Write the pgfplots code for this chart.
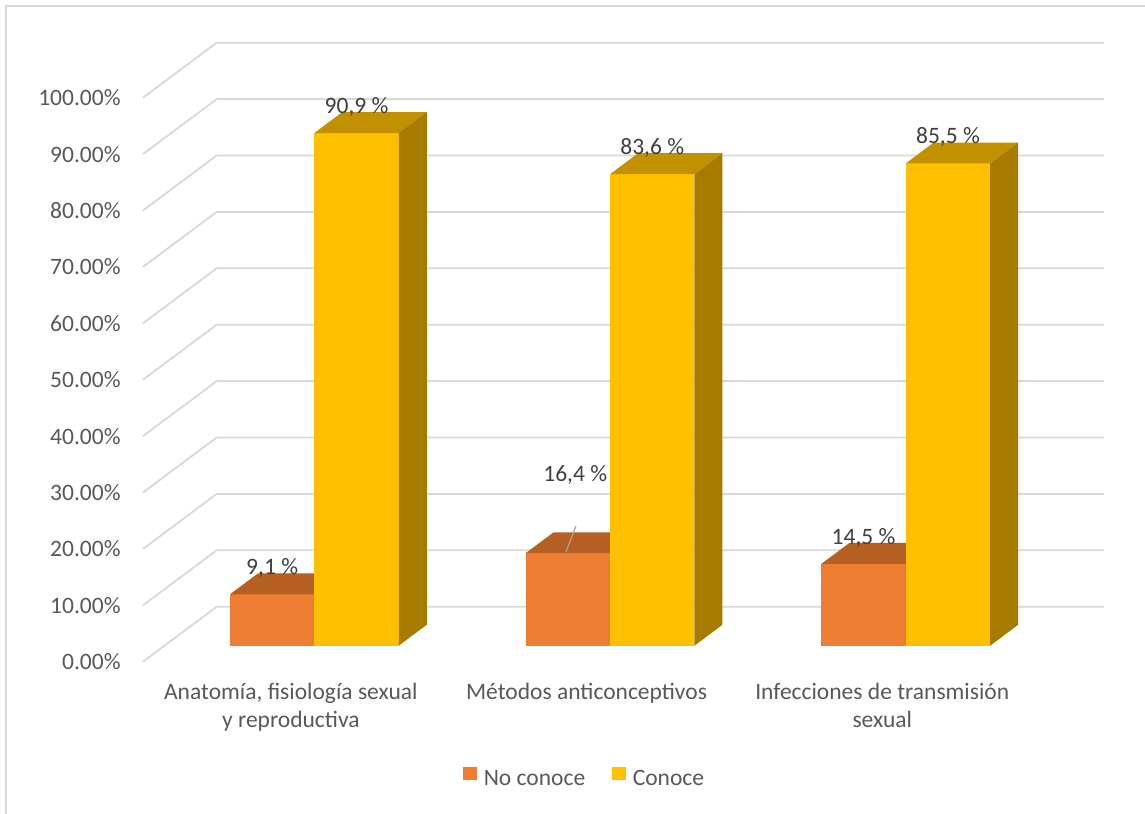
\documentclass[border=0pt]{standalone}
\usepackage{fontspec}
\setmainfont{Carlito}
\usepackage{pgfplots}
\usepackage{pgfplotstable}
\pgfplotsset{compat=1.18}
\pgfplotsset{/pgf/number format/assume math mode=true}

\definecolor{orangeF}{HTML}{ED7D31}
\definecolor{orangeT}{HTML}{B55F22}
\definecolor{orangeS}{HTML}{A9561C}
\definecolor{yellowF}{HTML}{FFC000}
\definecolor{yellowT}{HTML}{C29100}
\definecolor{yellowS}{HTML}{A57C00}
\definecolor{gridgray}{HTML}{D9D9D9}
\definecolor{axgray}{HTML}{595959}
\definecolor{lblgray}{HTML}{404040}
\definecolor{leadgray}{HTML}{A6A6A6}

\newcommand\chartfont{\fontsize{11.8}{14}\selectfont}

% values per topic: share that does not know / knows, plus label lift
\pgfplotstableread{
cat noconoce conoce lift lx
0   9.1      90.9   0    0
1   16.4     83.6   9.2  0.025
2   14.5     85.5   0    0
}\datatable

% oblique 3-D geometry (x in category units, y in percent)
\def\wdx{0.2492}   % depth of the back wall, x
\def\wdy{9.75}     % depth of the back wall, y
\def\fdx{0.0725}   % front face of the bars, x
\def\fdy{2.84}     % front face of the bars, y
\def\bdx{0.0947}   % bar depth, x
\def\bdy{3.71}     % bar depth, y
\def\barw{0.2855}  % bar width
\def\grpshift{0.007}

% #1 category, #2 left offset, #3 value, #4 front, #5 top, #6 side colour
\newcommand\drawbar[6]{%
  \pgfmathsetmacro\xa{#1+\grpshift+(#2)+\fdx}%
  \pgfmathsetmacro\xb{\xa+\barw}%
  \pgfmathsetmacro\ya{\fdy}%
  \pgfmathsetmacro\yb{#3+\fdy}%
  \pgfmathsetmacro\xc{\xa+\bdx}%
  \pgfmathsetmacro\xd{\xb+\bdx}%
  \pgfmathsetmacro\yc{\ya+\bdy}%
  \pgfmathsetmacro\yd{\yb+\bdy}%
  \edef\temp{%
    \noexpand\addplot[forget plot, fill=#4, draw=none] coordinates {(\xa,\ya) (\xb,\ya) (\xb,\yb) (\xa,\yb)};
    \noexpand\addplot[forget plot, fill=#5, draw=none] coordinates {(\xa,\yb) (\xb,\yb) (\xd,\yd) (\xc,\yd)};
    \noexpand\addplot[forget plot, fill=#6, draw=none] coordinates {(\xb,\ya) (\xd,\yc) (\xd,\yd) (\xb,\yb)};
  }\temp
}

\begin{document}
\begin{tikzpicture}
\useasboundingbox (-71.5bp,-76.15bp) rectangle (501bp,330.85bp);
\fill[white] (-71.5bp,-76.15bp) rectangle (501bp,330.85bp);
\draw[gridgray, line width=0.8bp] (-68.6bp,-80bp) -- (-68.6bp,327.95bp) -- (505bp,327.95bp);
\begin{axis}[
  at={(0,0)}, anchor=south west,
  x=147.85bp, y=2.82bp,
  xmin=-0.5, xmax=2.5, ymin=0, ymax=100,
  clip=false,
  axis line style={draw=none},
  major tick length=0pt,
  tick style={draw=none},
  xtick={0,1,2},
  xticklabels={{Anatomía, fisiología sexual\\y reproductiva},
               {Métodos anticonceptivos},
               {Infecciones de transmisión\\sexual}},
  ytick={0,10,...,100},
  yticklabel={\pgfmathprintnumber[fixed,fixed zerofill,precision=2]{\tick}\%},
  tick label style={font=\chartfont, color=axgray},
  yticklabel style={anchor=east, inner sep=0pt, xshift=-11bp},
  xticklabel style={align=center, anchor=north, inner sep=0pt, yshift=-10.6bp},
  legend columns=2,
  legend style={at={(0.499,-0.209)}, anchor=center, draw=none, fill=none,
    font=\chartfont, text=axgray, inner sep=0pt,
    /tikz/every odd column/.append style={column sep=1.6bp},
    /tikz/every even column/.append style={column sep=11.5bp}},
  legend image code/.code={\fill[#1] (0bp,-0.4bp) rectangle (6.7bp,6.3bp);},
]
\addlegendimage{fill=orangeF, draw=none}
\addlegendentry{No conoce}
\addlegendimage{fill=yellowF, draw=none}
\addlegendentry{Conoce}

% gridlines on the side and back walls
\pgfplotsinvokeforeach{0,10,...,100}{
  \pgfmathsetmacro\gy{#1+\wdy}
  \pgfmathsetmacro\gxa{-0.5+\wdx}
  \pgfmathsetmacro\gxb{2.5+\wdx}
  \edef\temp{\noexpand\addplot[forget plot, gridgray, line width=0.9bp] coordinates {(-0.5,#1) (\gxa,\gy) (\gxb,\gy)};}\temp
}

% 3-D bars
\pgfplotsinvokeforeach{0,1,2}{
  \pgfplotstablegetelem{#1}{noconoce}\of\datatable
  \let\vno\pgfplotsretval
  \pgfplotstablegetelem{#1}{conoce}\of\datatable
  \let\vsi\pgfplotsretval
  \drawbar{#1}{-\barw}{\vno}{orangeF}{orangeT}{orangeS}
  \drawbar{#1}{0}{\vsi}{yellowF}{yellowT}{yellowS}
}

% leader line of the lifted label
\addplot[forget plot, color=leadgray, line width=0.6bp] coordinates {(0.964,24.06) (0.9305,19.45)};

% data labels
\addplot[forget plot, draw=none, point meta=explicit,
  nodes near coords={\pgfmathprintnumber[fixed,fixed zerofill,precision=1,use comma]{\pgfplotspointmeta}~\%},
  every node near coord/.append style={font=\chartfont, color=lblgray, anchor=base, inner sep=0pt}]
  table[x expr=\thisrow{cat}+\grpshift-\barw/2+\fdx+\thisrow{lx},
        y expr=\thisrow{noconoce}+6.3+\thisrow{lift}, meta=noconoce] {\datatable};
\addplot[forget plot, draw=none, point meta=explicit,
  nodes near coords={\pgfmathprintnumber[fixed,fixed zerofill,precision=1,use comma]{\pgfplotspointmeta}~\%},
  every node near coord/.append style={font=\chartfont, color=lblgray, anchor=base, inner sep=0pt}]
  table[x expr=\thisrow{cat}+\grpshift+\barw/2+\fdx,
        y expr=\thisrow{conoce}+6.3, meta=conoce] {\datatable};
\end{axis}
\end{tikzpicture}
\end{document}
